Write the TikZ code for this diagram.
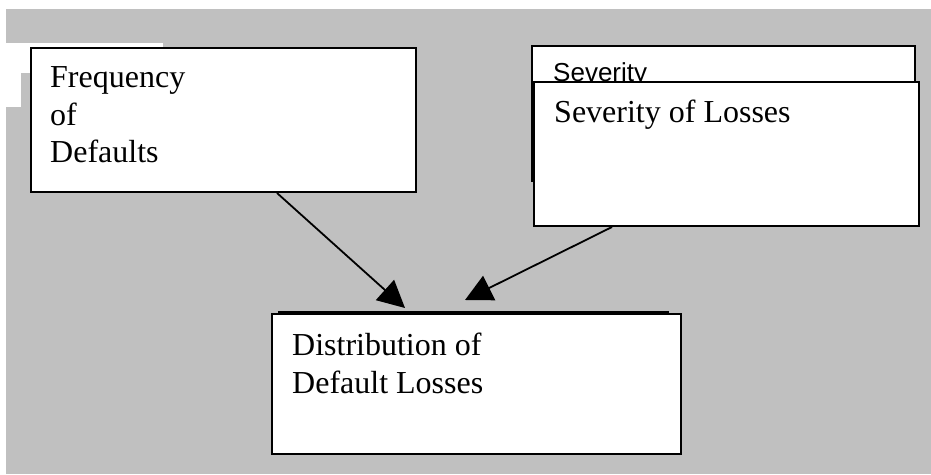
\documentclass[tikz,border=0pt]{standalone}
\usepackage{fontspec}
\setmainfont{Liberation Serif}
\newfontfamily\arialfont{Liberation Sans}
\usetikzlibrary{arrows.meta,calc}
\definecolor{bggray}{HTML}{C0C0C0}
\begin{document}
\begin{tikzpicture}[x=1pt,y=-1pt,
  box/.style={draw=black,line width=2pt,fill=white,inner sep=0pt,anchor=north west},
  lbl/.style={anchor=base west,align=left,inner sep=0pt,font=\fontsize{32}{37.5}\selectfont},
  arr/.style={line width=1.8pt,-{Triangle[length=27pt,width=27pt]}}]
\useasboundingbox (0,0) rectangle (931,474);
\fill[bggray] (6,9) rectangle (931,474);
\fill[white] (6,43) rectangle (163,73);
\fill[white] (6,73) rectangle (21,107);
% Frequency box
\node[box,minimum width=385pt,minimum height=144pt] (freq) at (30,47) {};
\node[lbl] (freqtxt) at ($(freq.north west)+(20,115.5)$) {Frequency\\of\\Defaults};
% Severity boxes
\node[box,minimum width=383pt,minimum height=135pt] (sevback) at (531,45) {};
\node[anchor=base west,inner sep=0pt,font=\arialfont\fontsize{26}{30}\selectfont] (sevsmall) at ($(sevback.north west)+(22,36.5)$) {Severity};
\node[box,minimum width=385pt,minimum height=144pt] (sevfront) at (533,81) {};
\node[lbl] (sevtxt) at ($(sevfront.north west)+(21,41)$) {Severity of Losses};
% Distribution boxes
\node[box,minimum width=389pt,minimum height=100pt] (distback) at (278,311) {};
\node[box,minimum width=409pt,minimum height=140pt] (dist) at (271,313) {};
\node[lbl] (disttxt) at ($(dist.north west)+(21,80)$) {Distribution of\\Default Losses};
% Arrows
\coordinate (a1s) at ($(freq.south west)+(247,0)$);
\coordinate (a1e) at ($(distback.north west)+(127,-3)$);
\coordinate (a2s) at ($(sevfront.south west)+(79,0)$);
\coordinate (a2e) at ($(distback.north west)+(187,-11)$);
\draw[arr] (a1s) -- (a1e);
\draw[arr] (a2s) -- (a2e);
\end{tikzpicture}
\end{document}
